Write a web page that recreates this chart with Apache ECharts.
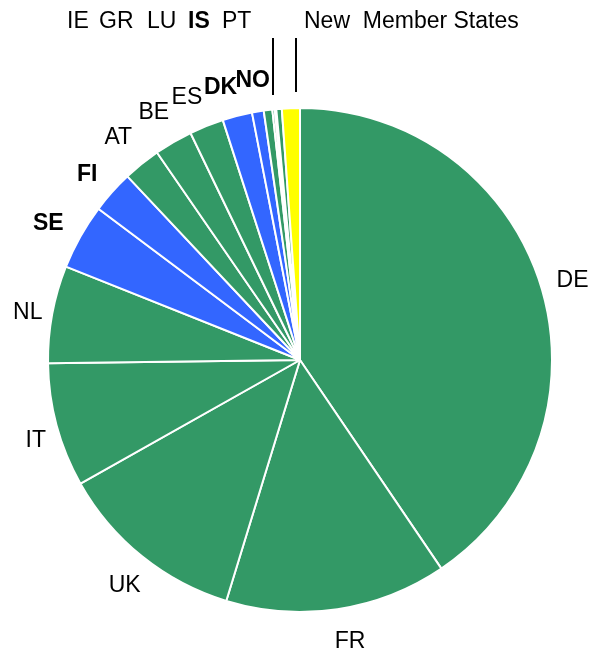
<!DOCTYPE html>
<html>
<head>
<meta charset="utf-8">
<script src="https://cdn.jsdelivr.net/npm/echarts@6/dist/echarts.min.js"></script>
<style>
  html, body { margin: 0; padding: 0; background: #fff; }
  #chart { width: 594px; height: 656px; }
</style>
</head>
<body>
<div id="chart"></div>
<script>
// Share by country, clockwise from 12 o'clock
const COUNTRIES = ['DE', 'FR', 'UK', 'IT', 'NL', 'SE', 'FI', 'AT', 'BE', 'ES', 'DK', 'NO', 'IE', 'GR', 'LU', 'IS', 'PT', 'New Member States'];
const SHARES = [40.5, 14.2, 12.1, 7.95, 6.25, 4.2, 2.75, 2.4, 2.45, 2.2, 1.9, 0.75, 0.55, 0.15, 0.05, 0.05, 0.35, 1.15];
const NORDIC = ['SE', 'FI', 'DK', 'NO', 'IS'];
const NEW_MEMBERS = 'New Member States';

const COLORS = {
  eu: '#339966',
  nordic: '#3366ff',
  newMembers: '#ffff00',
  text: '#000000',
};

// labels of the tiny top slices sit in one row above the pie
const TOP_ROW_X = { IE: 67, GR: 99, LU: 147, IS: 188, PT: 222, 'New Member States': 304 };
const TOP_ROW_Y = 22;
// small hand nudges of some outer labels, as in the original
const LABEL_NUDGE = {
  DE: [2, 4], FR: [8, 2], UK: [2, 5], IT: [9, 7], NL: [6, 4],
  SE: [-5, 2], FI: [-2, 3], AT: [-4, -2], BE: [-4, -3], ES: [-8, 0], DK: [-9, 2],
};

const CENTER = [300, 360];
const RADIUS = 252;

function sliceColor(name) {
  if (name === NEW_MEMBERS) return COLORS.newMembers;
  if (NORDIC.includes(name)) return COLORS.nordic;
  return COLORS.eu;
}

const chart = echarts.init(document.getElementById('chart'), null, { renderer: 'canvas' });

chart.setOption({
  backgroundColor: '#fff',
  animation: false,
  series: [
    {
      // the pie itself
      type: 'pie',
      center: CENTER,
      radius: RADIUS,
      startAngle: 90,
      clockwise: true,
      silent: true,
      label: { show: false },
      labelLine: { show: false },
      itemStyle: { borderColor: '#fff', borderWidth: 2 },
      data: COUNTRIES.map((c, i) => ({
        name: c,
        value: SHARES[i],
        itemStyle: { color: sliceColor(c) },
      })),
    },
    {
      // invisible ring carrying the labels just outside the pie
      type: 'pie',
      center: CENTER,
      radius: [RADIUS + 10, RADIUS + 46],
      startAngle: 90,
      clockwise: true,
      silent: true,
      itemStyle: { color: 'rgba(0,0,0,0)', borderWidth: 0 },
      emphasis: { disabled: true },
      label: {
        show: true,
        position: 'inside',
        fontFamily: '"Liberation Sans", Arial, sans-serif',
        fontSize: 23,
        color: COLORS.text,
        formatter: p => (p.name === NEW_MEMBERS ? 'New  Member States' : p.name),
      },
      labelLine: { show: false },
      labelLayout: params => {
        const name = COUNTRIES[params.dataIndex];
        if (name in TOP_ROW_X) {
          return { x: TOP_ROW_X[name], y: TOP_ROW_Y, align: 'left', verticalAlign: 'middle' };
        }
        if (LABEL_NUDGE[name]) return { dx: LABEL_NUDGE[name][0], dy: LABEL_NUDGE[name][1] };
        return {};
      },
      data: COUNTRIES.map((c, i) => ({
        name: c,
        value: SHARES[i],
        label: { fontWeight: NORDIC.includes(c) ? 'bold' : 'normal' },
      })),
    },
  ],
  graphic: [
    { type: 'line', shape: { x1: 273, y1: 38, x2: 273, y2: 95 }, style: { stroke: '#000', lineWidth: 2 }, silent: true },
    { type: 'line', shape: { x1: 296, y1: 38, x2: 296, y2: 92 }, style: { stroke: '#000', lineWidth: 2 }, silent: true },
  ],
});
</script>
</body>
</html>
